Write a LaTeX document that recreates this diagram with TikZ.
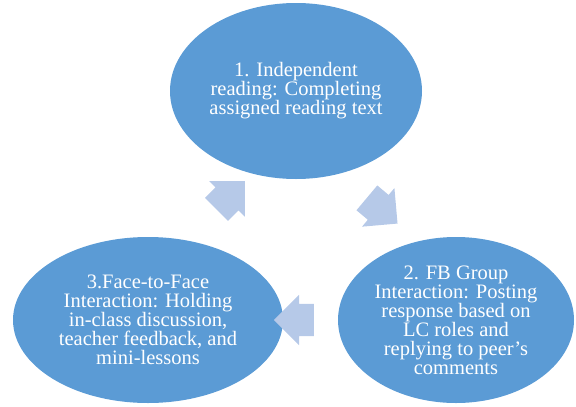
\documentclass[tikz,border=0pt]{standalone}
\usepackage{fontspec}
\setmainfont{Liberation Serif}
\usetikzlibrary{shapes.geometric,shapes.arrows,calc}
\definecolor{stepblue}{RGB}{91,155,213}
\definecolor{arrowblue}{RGB}{182,201,232}

\begin{document}
\begin{tikzpicture}[
  x=1pt, y=-1pt,
  phase/.style={ellipse, fill=stepblue, text=white, inner sep=0pt, align=center,
    font=\fontsize{20.5}{19}\selectfont},
  cyclearrow/.style={single arrow, fill=arrowblue, inner xsep=0pt, inner ysep=16pt,
    minimum height=40pt, single arrow head extend=9pt, single arrow head indent=0pt},
]
\useasboundingbox (0,0) rectangle (576,407);
\node[phase, minimum width=252pt, minimum height=176pt] (reading) at (296,91)
  {1. Independent\\reading: Completing\\assigned reading text};
\node[phase, minimum width=236pt, minimum height=166pt] (fbgroup) at (456,320)
  {2. FB Group\\Interaction: Posting\\response based on\\LC roles and\\replying to peer's\\comments};
\node[phase, minimum width=270pt, minimum height=166pt] (facetoface) at (148,320)
  {3.Face-to-Face\\Interaction: Holding\\in-class discussion,\\teacher feedback, and\\mini-lessons};
% arrows of the cycle
\node[cyclearrow, rotate=-40] (arr 1) at ($(reading)!0.5!(fbgroup)$) {};
\node[cyclearrow, rotate=180] (arr 2) at ($(fbgroup)!0.5!(facetoface)$) {};
\node[cyclearrow, rotate=45] (arr 3) at ($(facetoface)!0.52!(reading)$) {};
\end{tikzpicture}
\end{document}
